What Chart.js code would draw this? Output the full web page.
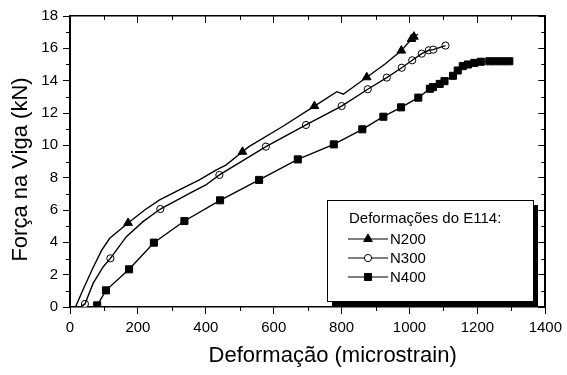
<!DOCTYPE html>
<html>
<head>
<meta charset="utf-8">
<script src="https://cdn.jsdelivr.net/npm/chart.js@4.4.0/dist/chart.umd.min.js"></script>
<style>
  html, body { margin: 0; padding: 0; background: #fff; }
  canvas { display: block; }
</style>
</head>
<body>
<canvas id="chart" width="567" height="375"></canvas>
<script>
const xTitle = 'Deformação (microstrain)';
const yTitle = 'Força na Viga (kN)';
const legendTitle = 'Deformações do E114:';
const seriesNames = ['N200', 'N300', 'N400'];

// N200 curve and its triangle markers
const n200LineX = [17, 40, 65, 93, 117, 171, 220, 264, 322, 381, 430, 459, 508, 527, 625, 720, 786, 805, 874, 928, 976, 1006, 1013, 1025];
const n200LineY = [0.05, 1.15, 2.3, 3.5, 4.25, 5.2, 6.0, 6.62, 7.24, 7.86, 8.47, 8.78, 9.6, 9.92, 11.15, 12.43, 13.32, 13.16, 14.21, 15.03, 15.86, 16.58, 16.72, 16.87];
const n200MarkX = [171, 508, 720, 874, 976, 1006, 1013];
const n200MarkY = [5.2, 9.6, 12.43, 14.21, 15.86, 16.58, 16.72];

// N300 curve and its circle markers
const n300LineX = [34, 44, 68, 98, 119, 166, 215, 266, 352, 400, 440, 577, 695, 800, 877, 933, 977, 1008, 1036, 1057, 1070, 1106];
const n300LineY = [0.05, 0.19, 1.46, 2.49, 3.01, 4.35, 5.28, 6.06, 7.03, 7.55, 8.17, 9.92, 11.26, 12.43, 13.47, 14.19, 14.8, 15.26, 15.67, 15.88, 15.92, 16.17];
const n300MarkX = [44, 119, 266, 440, 577, 695, 800, 877, 933, 977, 1008, 1036, 1057, 1070, 1106];
const n300MarkY = [0.19, 3.01, 6.06, 8.17, 9.92, 11.26, 12.43, 13.47, 14.19, 14.8, 15.26, 15.67, 15.88, 15.92, 16.17];

// N400: every point carries a square
const n400X = [80, 106, 174, 247, 337, 442, 557, 671, 777, 861, 923, 975, 1026, 1060, 1069, 1089, 1103, 1128, 1142, 1157, 1172, 1191, 1210, 1235, 1254, 1274, 1294];
const n400Y = [0.1, 1.03, 2.33, 3.98, 5.32, 6.6, 7.86, 9.13, 10.06, 10.99, 11.77, 12.35, 12.95, 13.5, 13.6, 13.8, 13.97, 14.3, 14.63, 14.9, 15.0, 15.1, 15.17, 15.2, 15.2, 15.2, 15.2];

const xMin = 0, xMax = 1400, xStep = 200;
const yMin = 0, yMax = 18, yStep = 2;

const FONT = 'Arial, "Liberation Sans", sans-serif';
const toPoints = (xs, ys) => xs.map((x, i) => ({ x: x, y: ys[i] }));

const markers = [
  { pointStyle: 'triangle', radius: 5, fill: '#000' },
  { pointStyle: 'circle', radius: 3.6, fill: '#fff' },
  { pointStyle: 'rect', radius: 5, fill: '#000' }
];

function lineSet(xs, ys) {
  return { data: toPoints(xs, ys), showLine: true, borderColor: '#000', borderWidth: 1.4, pointRadius: 0, pointHoverRadius: 0, tension: 0 };
}
function markSet(xs, ys, m) {
  return { data: toPoints(xs, ys), showLine: false, pointStyle: m.pointStyle, pointRadius: m.radius, pointHoverRadius: m.radius,
           backgroundColor: m.fill, borderColor: '#000', borderWidth: 1 };
}

// minor ticks (between the labelled ones)
const minorTicks = {
  id: 'minorTicks',
  afterDatasetsDraw(chart) {
    const { ctx, chartArea: a, scales } = chart;
    ctx.save();
    ctx.strokeStyle = '#000';
    ctx.lineWidth = 1;
    ctx.beginPath();
    for (let v = xMin + xStep / 2; v < xMax; v += xStep) {
      const px = Math.round(scales.x.getPixelForValue(v)) + 0.5;
      ctx.moveTo(px, a.bottom); ctx.lineTo(px, a.bottom + 4);
      ctx.moveTo(px, a.top); ctx.lineTo(px, a.top + 4);
    }
    for (let v = yMin + yStep / 2; v < yMax; v += yStep) {
      const py = Math.round(scales.y.getPixelForValue(v)) + 0.5;
      ctx.moveTo(a.left, py); ctx.lineTo(a.left - 4, py);
      ctx.moveTo(a.right, py); ctx.lineTo(a.right - 4, py);
    }
    ctx.stroke();
    ctx.restore();
  }
};

const axisTitles = {
  id: 'axisTitles',
  afterDraw(chart) {
    const { ctx, chartArea: a } = chart;
    ctx.save();
    ctx.fillStyle = '#000';
    ctx.font = '22px ' + FONT;
    ctx.textAlign = 'center';
    ctx.textBaseline = 'middle';
    ctx.fillText(xTitle, (a.left + a.right) / 2 + 25, 356);
    ctx.translate(21, (a.top + a.bottom) / 2 + 8);
    ctx.rotate(-Math.PI / 2);
    ctx.fillText(yTitle, 0, 0);
    ctx.restore();
  }
};

// boxed legend with a drop shadow, inside the plot
const boxLegend = {
  id: 'boxLegend',
  afterDatasetsDraw(chart) {
    const { ctx, chartArea: a } = chart;
    const left = a.left + 257, top = a.top + 184, w = 206, h = 101;
    ctx.save();
    ctx.fillStyle = '#000';
    ctx.fillRect(left + 5, top + 5, w, h);
    ctx.fillStyle = '#fff';
    ctx.fillRect(left, top, w, h);
    ctx.strokeStyle = '#000';
    ctx.lineWidth = 1;
    ctx.strokeRect(left + 0.5, top + 0.5, w, h);

    ctx.fillStyle = '#000';
    ctx.font = '15px ' + FONT;
    ctx.textBaseline = 'middle';
    ctx.textAlign = 'left';
    ctx.fillText(legendTitle, left + 22, top + 19);
    seriesNames.forEach((name, i) => {
      const y = top + 39 + i * 19;
      ctx.strokeStyle = '#000';
      ctx.lineWidth = 1.2;
      ctx.beginPath();
      ctx.moveTo(left + 21, y); ctx.lineTo(left + 61, y);
      ctx.stroke();
      const m = markers[i];
      ctx.fillStyle = m.fill;
      ctx.lineWidth = 1;
      Chart.helpers.drawPoint(ctx, { pointStyle: m.pointStyle, radius: m.radius, borderWidth: 1, rotation: 0 }, left + 41, y);
      ctx.fillStyle = '#000';
      ctx.fillText(name, left + 63, y + 1);
    });
    ctx.restore();
  }
};

function axis(position, opts) {
  const horiz = position === 'top' || position === 'bottom';
  return Object.assign({
    type: 'linear',
    position: position,
    min: horiz ? xMin : yMin,
    max: horiz ? xMax : yMax,
    ticks: { stepSize: horiz ? xStep : yStep, color: '#000', font: { family: FONT, size: 15 }, padding: 5,
             callback: v => String(v) },
    grid: { drawOnChartArea: false, tickLength: 7, tickColor: '#000', tickWidth: 1 },
    border: { color: '#000', width: horiz ? 1.5 : 2 }
  }, opts);
}

new Chart(document.getElementById('chart'), {
  type: 'scatter',
  data: {
    datasets: [
      lineSet(n200LineX, n200LineY),
      markSet(n200MarkX, n200MarkY, markers[0]),
      lineSet(n300LineX, n300LineY),
      markSet(n300MarkX, n300MarkY, markers[1]),
      lineSet(n400X, n400Y),
      markSet(n400X, n400Y, markers[2])
    ]
  },
  options: {
    responsive: false,
    animation: false,
    layout: { padding: { top: 16, right: 19, bottom: 0, left: 0 } },
    plugins: { legend: { display: false }, tooltip: { enabled: false } },
    scales: {
      x: axis('bottom', { afterFit: s => { s.height = 68; } }),
      y: axis('left', { afterFit: s => { s.width = 70; } }),
      xTop: axis('top', {
        ticks: { display: false, stepSize: xStep },
        grid: { drawOnChartArea: false, tickLength: -7, tickColor: '#000', tickWidth: 1 },
        afterFit: s => { s.height = 0; }
      }),
      yRight: axis('right', {
        ticks: { display: false, stepSize: yStep },
        grid: { drawOnChartArea: false, tickLength: -7, tickColor: '#000', tickWidth: 1 },
        afterFit: s => { s.width = 0; }
      })
    }
  },
  plugins: [minorTicks, boxLegend, axisTitles]
});
</script>
</body>
</html>
